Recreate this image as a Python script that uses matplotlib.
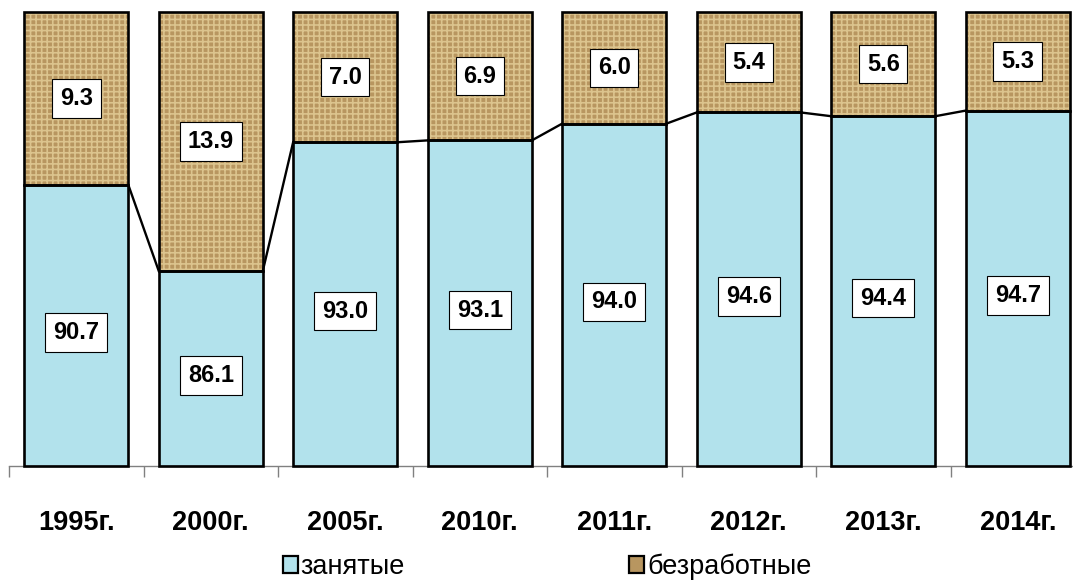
import matplotlib
matplotlib.use("Agg")
import matplotlib.pyplot as plt
import numpy as np
from matplotlib.patches import Patch

plt.rcParams['font.family'] = ['Liberation Sans', 'DejaVu Sans']
plt.rcParams['hatch.linewidth'] = 1.2

categories = ['1995г.', '2000г.', '2005г.', '2010г.', '2011г.', '2012г.', '2013г.', '2014г.']
employed = [90.7, 86.1, 93.0, 93.1, 94.0, 94.6, 94.4, 94.7]
unemployed = [9.3, 13.9, 7.0, 6.9, 6.0, 5.4, 5.6, 5.3]
series_names = ['занятые', 'безработные']

ymin, ymax = 75.6, 100.0

blue = '#B2E2EC'
burlap = '#B89660'
burlap_hatch = '#DCC48E'

fig = plt.figure(figsize=(10.73, 5.8), dpi=100)
ax = fig.add_axes([9/1073, (580-466)/580, 1076/1073, (466-12)/580])

x = np.arange(len(categories))
w = 0.775
emp_h = [e - ymin for e in employed]
# fills
ax.bar(x, emp_h, width=w, bottom=ymin, color=blue, edgecolor='none', zorder=2)
ax.bar(x, unemployed, width=w, bottom=employed, color=burlap, edgecolor=burlap_hatch,
       hatch='+++', linewidth=0, zorder=2)
# outlines
ax.bar(x, emp_h, width=w, bottom=ymin, fill=False, edgecolor='black', linewidth=1.9,
       zorder=4, clip_on=False)
ax.bar(x, unemployed, width=w, bottom=employed, fill=False, edgecolor='black', linewidth=1.9,
       zorder=4, clip_on=False)

# series lines
for i in range(len(x) - 1):
    ax.plot([x[i] + w/2, x[i+1] - w/2], [employed[i], employed[i+1]], color='black',
            lw=1.7, zorder=3)

bbox = dict(boxstyle='square,pad=0.33', facecolor='white', edgecolor='black', linewidth=0.8)
for i in range(len(x)):
    ax.annotate(f'{employed[i]:.1f}', xy=(x[i], (employed[i] + ymin) / 2), xytext=(0, -7),
                textcoords='offset pixels', ha='center', va='center',
                fontsize=17, fontweight='bold', bbox=bbox, zorder=5)
    ax.annotate(f'{unemployed[i]:.1f}', xy=(x[i], employed[i] + unemployed[i] / 2),
                ha='center', va='center',
                fontsize=17, fontweight='bold', bbox=bbox, zorder=5)

ax.set_xlim(-0.5, len(x) - 0.5)
ax.set_ylim(ymin, ymax)
for s in ['left', 'right', 'top']:
    ax.spines[s].set_visible(False)
ax.spines['bottom'].set_color('#808080')
ax.spines['bottom'].set_linewidth(1.0)
ax.set_yticks([])
ax.set_xticks(np.arange(len(x) + 1) - 0.5, minor=True)
ax.set_xticks(x)
ax.set_xticklabels(categories, fontsize=19.5, fontweight='bold')
ax.tick_params(axis='x', which='major', length=0, pad=32)
ax.tick_params(axis='x', which='minor', length=8, color='#808080', width=1.0)

handles = [Patch(facecolor=blue, edgecolor='black', linewidth=1.6),
           Patch(facecolor=burlap, edgecolor='black', linewidth=1.6)]
fig.legend(handles, series_names, loc='center', bbox_to_anchor=(547/1073, 1 - 567/580),
           ncol=2, frameon=False, fontsize=19.5, handlelength=0.55, handleheight=0.55,
           handletextpad=0.1, columnspacing=8.3, borderaxespad=0)

fig.savefig('out.png', dpi=100)
